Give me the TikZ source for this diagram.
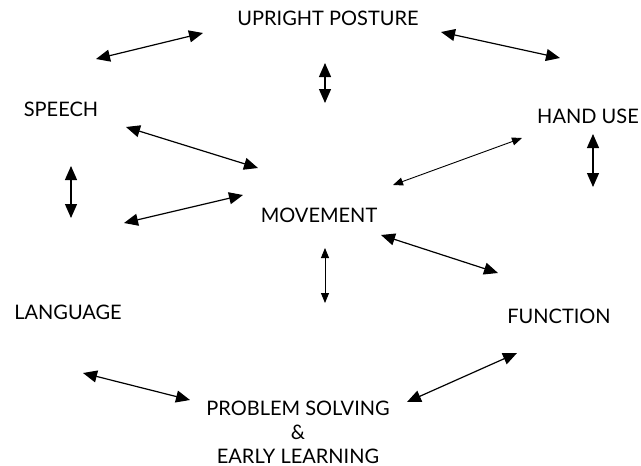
\documentclass[tikz,border=0pt]{standalone}
\usepackage{fontspec}
\setmainfont{Lato}
\usetikzlibrary{arrows.meta}
\begin{document}
\begin{tikzpicture}[x=1pt,y=-1pt,
  label/.style={font=\fontsize{20}{24}\selectfont, inner sep=0pt, align=center},
  link/.style={line width=1.2pt, {Triangle[length=14pt,width=12pt]}-{Triangle[length=14pt,width=12pt]}},
  thinlink/.style={line width=0.9pt, {Triangle[length=10pt,width=8pt]}-{Triangle[length=10pt,width=8pt]}}]
\useasboundingbox (0,0) rectangle (641,466);
% labels
\node[label] (upright) at (328,18) {UPRIGHT POSTURE};
\node[label] (speech) at (61,109) {SPEECH};
\node[label] (hand) at (588,116) {HAND USE};
\node[label] (movement) at (319,215) {MOVEMENT};
\node[label] (language) at (68,312) {LANGUAGE};
\node[label] (function) at (559,316) {FUNCTION};
\node[label] (problem) at (298,432) {PROBLEM SOLVING\\\&\\EARLY LEARNING};
% arrow ends
\coordinate (a1) at (96,59);   \coordinate (b1) at (203,33);
\coordinate (a2) at (441,32);  \coordinate (b2) at (560,58);
\coordinate (a3) at (325,63);  \coordinate (b3) at (325,103);
\coordinate (a4) at (126,127); \coordinate (b4) at (258,168);
\coordinate (a5) at (71,166);  \coordinate (b5) at (71,218);
\coordinate (a6) at (124,223); \coordinate (b6) at (243,195);
\coordinate (a7) at (393,185); \coordinate (b7) at (522,138);
\coordinate (a8) at (593,134); \coordinate (b8) at (593,187);
\coordinate (a9) at (381,235); \coordinate (b9) at (498,273);
\coordinate (a10) at (325,248); \coordinate (b10) at (325,303);
\coordinate (a11) at (83,373); \coordinate (b11) at (190,400);
\coordinate (a12) at (407,402); \coordinate (b12) at (517,353);
% links
\draw[link] (a1) -- (b1);
\draw[link] (a2) -- (b2);
\draw[link] (a3) -- (b3);
\draw[link] (a4) -- (b4);
\draw[link] (a5) -- (b5);
\draw[link] (a6) -- (b6);
\draw[thinlink] (a7) -- (b7);
\draw[link] (a8) -- (b8);
\draw[link] (a9) -- (b9);
\draw[thinlink] (a10) -- (b10);
\draw[link] (a11) -- (b11);
\draw[link] (a12) -- (b12);
\end{tikzpicture}
\end{document}
